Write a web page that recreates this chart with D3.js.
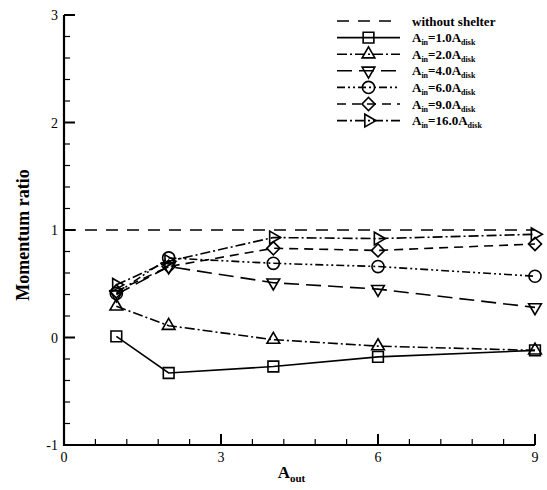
<!DOCTYPE html>
<html>
<head>
<meta charset="utf-8">
<script src="https://cdn.jsdelivr.net/npm/d3@7"></script>
<style>
  body { margin: 0; background: #fff; }
</style>
</head>
<body>
<div id="chart"></div>
<script>
// data
const aOut = [1, 2, 4, 6, 9];
const ain1 = [0.01, -0.33, -0.27, -0.18, -0.12];
const ain2 = [0.29, 0.11, -0.02, -0.08, -0.12];
const ain4 = [0.40, 0.66, 0.51, 0.45, 0.28];
const ain6 = [0.41, 0.74, 0.69, 0.66, 0.57];
const ain9 = [0.43, 0.66, 0.83, 0.81, 0.87];
const ain16 = [0.49, 0.71, 0.93, 0.92, 0.96];
const withoutShelter = 1;
const ainLabels = ["1.0", "2.0", "4.0", "6.0", "9.0", "16.0"];
const xTicks = [0, 3, 6, 9];
const yTicks = [-1, 0, 1, 2, 3];

const serif = "'Liberation Serif', 'Times New Roman', Times, 'DejaVu Serif', serif";

let width = 547, height = 490;
let margin = {top: 15, right: 12, bottom: 45, left: 64};

let x = d3.scaleLinear().domain([0, 9]).range([margin.left, width - margin.right]);
let y = d3.scaleLinear().domain([-1, 3]).range([height - margin.bottom, margin.top]);

let svg = d3.select("#chart").append("svg")
  .attr("width", width)
  .attr("height", height)
  .attr("font-family", serif);

// series styles
let series = [
  {vals: ain1, dash: null, sym: "square"},
  {vals: ain2, dash: "10,3,2,3", sym: "up"},
  {vals: ain4, dash: "15,7", sym: "down"},
  {vals: ain6, dash: "8,3,2,3,2,3", sym: "circle"},
  {vals: ain9, dash: "9,6", sym: "diamond"},
  {vals: ain16, dash: "10,3,2,3", sym: "right"}
];

function marker(g, type, cx, cy) {
  let s;
  if (type == "square") s = d3.symbol(d3.symbolSquare, 115);
  else if (type == "circle") s = d3.symbol(d3.symbolCircle, 115);
  else if (type == "diamond") s = d3.symbol(d3.symbolSquare, 85);
  else s = d3.symbol(d3.symbolTriangle, 70);
  let rot = {up: 0, down: 180, right: 90, diamond: 45}[type] || 0;
  g.append("path")
    .attr("d", s())
    .attr("transform", "translate(" + cx + "," + cy + ") rotate(" + rot + ")")
    .attr("fill", "none")
    .attr("stroke", "#000")
    .attr("stroke-width", 1.6);
}

// reference line
svg.append("line")
  .attr("x1", x(0)).attr("x2", x(9))
  .attr("y1", y(withoutShelter)).attr("y2", y(withoutShelter))
  .attr("stroke", "#000").attr("stroke-width", 1.6)
  .attr("stroke-dasharray", "12,9");

let line = d3.line().x((d, i) => x(aOut[i])).y(d => y(d));

series.forEach(s => {
  svg.append("path")
    .attr("d", line(s.vals))
    .attr("fill", "none")
    .attr("stroke", "#000")
    .attr("stroke-width", 1.6)
    .attr("stroke-dasharray", s.dash);
  s.vals.forEach((v, i) => marker(svg, s.sym, x(aOut[i]), y(v)));
});

// axes, ticks pointing inward
let isInt = d => Math.abs(d - Math.round(d)) < 1e-6;
let yMinor = d3.range(0, 21).map(i => -1 + i * 0.2);
let xMinor = d3.range(0, 16).map(i => i * 0.6);

let axes = svg.append("g").attr("stroke", "#000");
axes.selectAll(".yt").data(yMinor).enter().append("line")
  .attr("x1", x(0)).attr("x2", d => x(0) + (isInt(d) ? 11 : 6))
  .attr("y1", d => y(d)).attr("y2", d => y(d))
  .attr("stroke-width", d => isInt(d) ? 2 : 1.2);
axes.selectAll(".xt").data(xMinor).enter().append("line")
  .attr("x1", d => x(d)).attr("x2", d => x(d))
  .attr("y1", y(-1)).attr("y2", d => y(-1) - (isInt(d / 3) ? 11 : 6))
  .attr("stroke-width", d => isInt(d / 3) ? 2 : 1.2);
axes.append("path")
  .attr("d", "M" + x(0) + "," + y(3) + "V" + y(-1) + "H" + x(9))
  .attr("fill", "none").attr("stroke-width", 2.2);

// tick labels
svg.selectAll(".ylab").data(yTicks).enter().append("text")
  .attr("x", margin.left - 6).attr("y", d => y(d) + 5)
  .attr("text-anchor", "end").attr("font-size", 14).attr("fill", "#000")
  .text(d => d);
svg.selectAll(".xlab").data(xTicks).enter().append("text")
  .attr("x", d => x(d)).attr("y", height - margin.bottom + 17)
  .attr("text-anchor", "middle").attr("font-size", 14).attr("fill", "#000")
  .text(d => d);

// axis titles
svg.append("text")
  .attr("transform", "translate(29," + (y(1) + 5) + ") rotate(-90)")
  .attr("text-anchor", "middle").attr("font-size", 18).attr("font-weight", "bold")
  .attr("fill", "#000")
  .text("Momentum ratio");

let xt = svg.append("text")
  .attr("x", x(4.5) - 8).attr("y", height - 12)
  .attr("text-anchor", "middle").attr("font-size", 17).attr("font-weight", "bold")
  .attr("fill", "#000");
xt.append("tspan").text("A");
xt.append("tspan").attr("font-size", 11).attr("dy", 4).text("out");

// legend
let lx = 337, lw = 63, tx = 412, ly0 = 21, ldy = 16.6;
let legend = svg.append("g");
legend.append("line")
  .attr("x1", lx).attr("x2", lx + lw).attr("y1", ly0).attr("y2", ly0)
  .attr("stroke", "#000").attr("stroke-width", 1.6).attr("stroke-dasharray", "12,9");
legend.append("text").attr("x", tx).attr("y", ly0 + 4.5)
  .attr("font-size", 13).attr("font-weight", "bold").attr("fill", "#000")
  .text("without shelter");

series.forEach((s, i) => {
  let yy = ly0 + ldy * (i + 1);
  legend.append("line")
    .attr("x1", lx).attr("x2", lx + lw).attr("y1", yy).attr("y2", yy)
    .attr("stroke", "#000").attr("stroke-width", 1.6).attr("stroke-dasharray", s.dash);
  marker(legend, s.sym, lx + lw / 2, yy);
  let t = legend.append("text").attr("x", tx).attr("y", yy + 4.5)
    .attr("font-size", 13).attr("font-weight", "bold").attr("fill", "#000");
  t.append("tspan").text("A");
  t.append("tspan").attr("font-size", 8).attr("dy", 3).text("in");
  t.append("tspan").attr("dy", -3).text("=" + ainLabels[i] + "A");
  t.append("tspan").attr("font-size", 8).attr("dy", 3).text("disk");
});
</script>
</body>
</html>
